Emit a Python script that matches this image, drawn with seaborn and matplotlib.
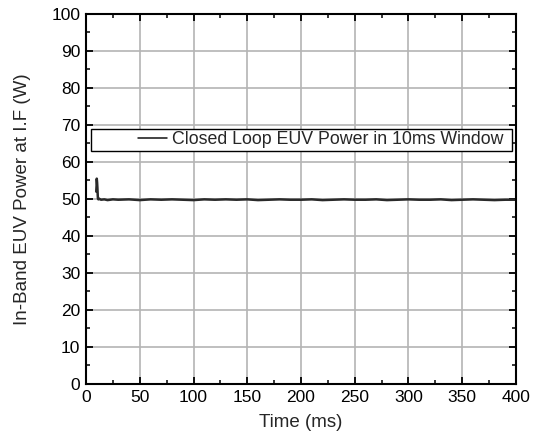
import matplotlib
matplotlib.use("Agg")
import matplotlib.pyplot as plt
from matplotlib.ticker import MultipleLocator
from matplotlib.patches import Rectangle
import seaborn as sns
import pandas as pd

# Closed-loop in-band EUV power trace
time_ms = [9.5, 9.8, 10.0, 10.3, 10.6, 10.9, 11.1, 11.5, 12, 14, 17, 20, 25, 30, 40, 50,
           60, 70, 80, 90, 100, 110, 120, 130, 140, 150, 160, 170, 180, 190, 200,
           210, 220, 230, 240, 250, 260, 270, 280, 290, 300, 310, 320, 330, 340,
           350, 360, 370, 380, 390, 400]
power_w = [52.0, 53.5, 55.5, 54.5, 53.0, 51.0, 50.1, 49.9, 50.1, 49.8, 49.9, 49.7, 49.9, 49.8, 49.9, 49.7,
           49.9, 49.8, 49.9, 49.8, 49.7, 49.9, 49.8, 49.9, 49.8, 49.9, 49.7, 49.8, 49.9, 49.8, 49.8,
           49.9, 49.7, 49.8, 49.9, 49.8, 49.8, 49.9, 49.7, 49.8, 49.9, 49.8, 49.8, 49.9, 49.7,
           49.8, 49.9, 49.8, 49.7, 49.8, 49.8]
series_label = "Closed Loop EUV Power in 10ms Window"

df = pd.DataFrame({"Time (ms)": time_ms, "Power": power_w})

sns.set_style("ticks")
plt.rcParams["font.family"] = ["Liberation Sans", "DejaVu Sans"]

fig = plt.figure(figsize=(5.6, 4.4), dpi=100)
ax = fig.add_axes([0.1536, 0.1273, 0.7678, 0.8409])

sns.lineplot(data=df, x="Time (ms)", y="Power", ax=ax, color="#2a2a2a",
             linewidth=1.8, label=series_label)

ax.set_xlim(0, 400)
ax.set_ylim(0, 100)
ax.xaxis.set_major_locator(MultipleLocator(50))
ax.xaxis.set_minor_locator(MultipleLocator(25))
ax.yaxis.set_major_locator(MultipleLocator(10))
ax.yaxis.set_minor_locator(MultipleLocator(5))

ax.grid(True, which="major", color="#b4b4b4", linewidth=1.2)
ax.set_axisbelow(True)

for sp in ax.spines.values():
    sp.set_visible(True)
    sp.set_color("black")
    sp.set_linewidth(1.5)

ax.tick_params(which="both", direction="in", top=True, right=True,
               labelsize=12.5, colors="black", pad=4)
ax.tick_params(which="major", length=5, width=1.3)
ax.tick_params(which="minor", length=3, width=1.1)

ax.set_xlabel("Time (ms)", fontsize=13.5, labelpad=7)
ax.set_ylabel("In-Band EUV Power at I.F (W)", fontsize=13.5, labelpad=15)

# legend frame spanning the plot width, entry placed inside it
frame = Rectangle((0.012, 0.63), 0.979, 0.059, transform=ax.transAxes,
                  facecolor="white", edgecolor="black", linewidth=1.0, zorder=4)
ax.add_patch(frame)
leg = ax.legend(loc="center left", bbox_to_anchor=(0.121, 0.6595),
                fontsize=12.8, frameon=False, handlelength=1.65,
                handletextpad=0.25, borderpad=0.0, borderaxespad=0.0)
leg.set_zorder(5)
for handle in leg.get_lines():
    handle.set_linewidth(1.1)
    handle.set_color("#111111")

fig.savefig("out.png", dpi=100)
